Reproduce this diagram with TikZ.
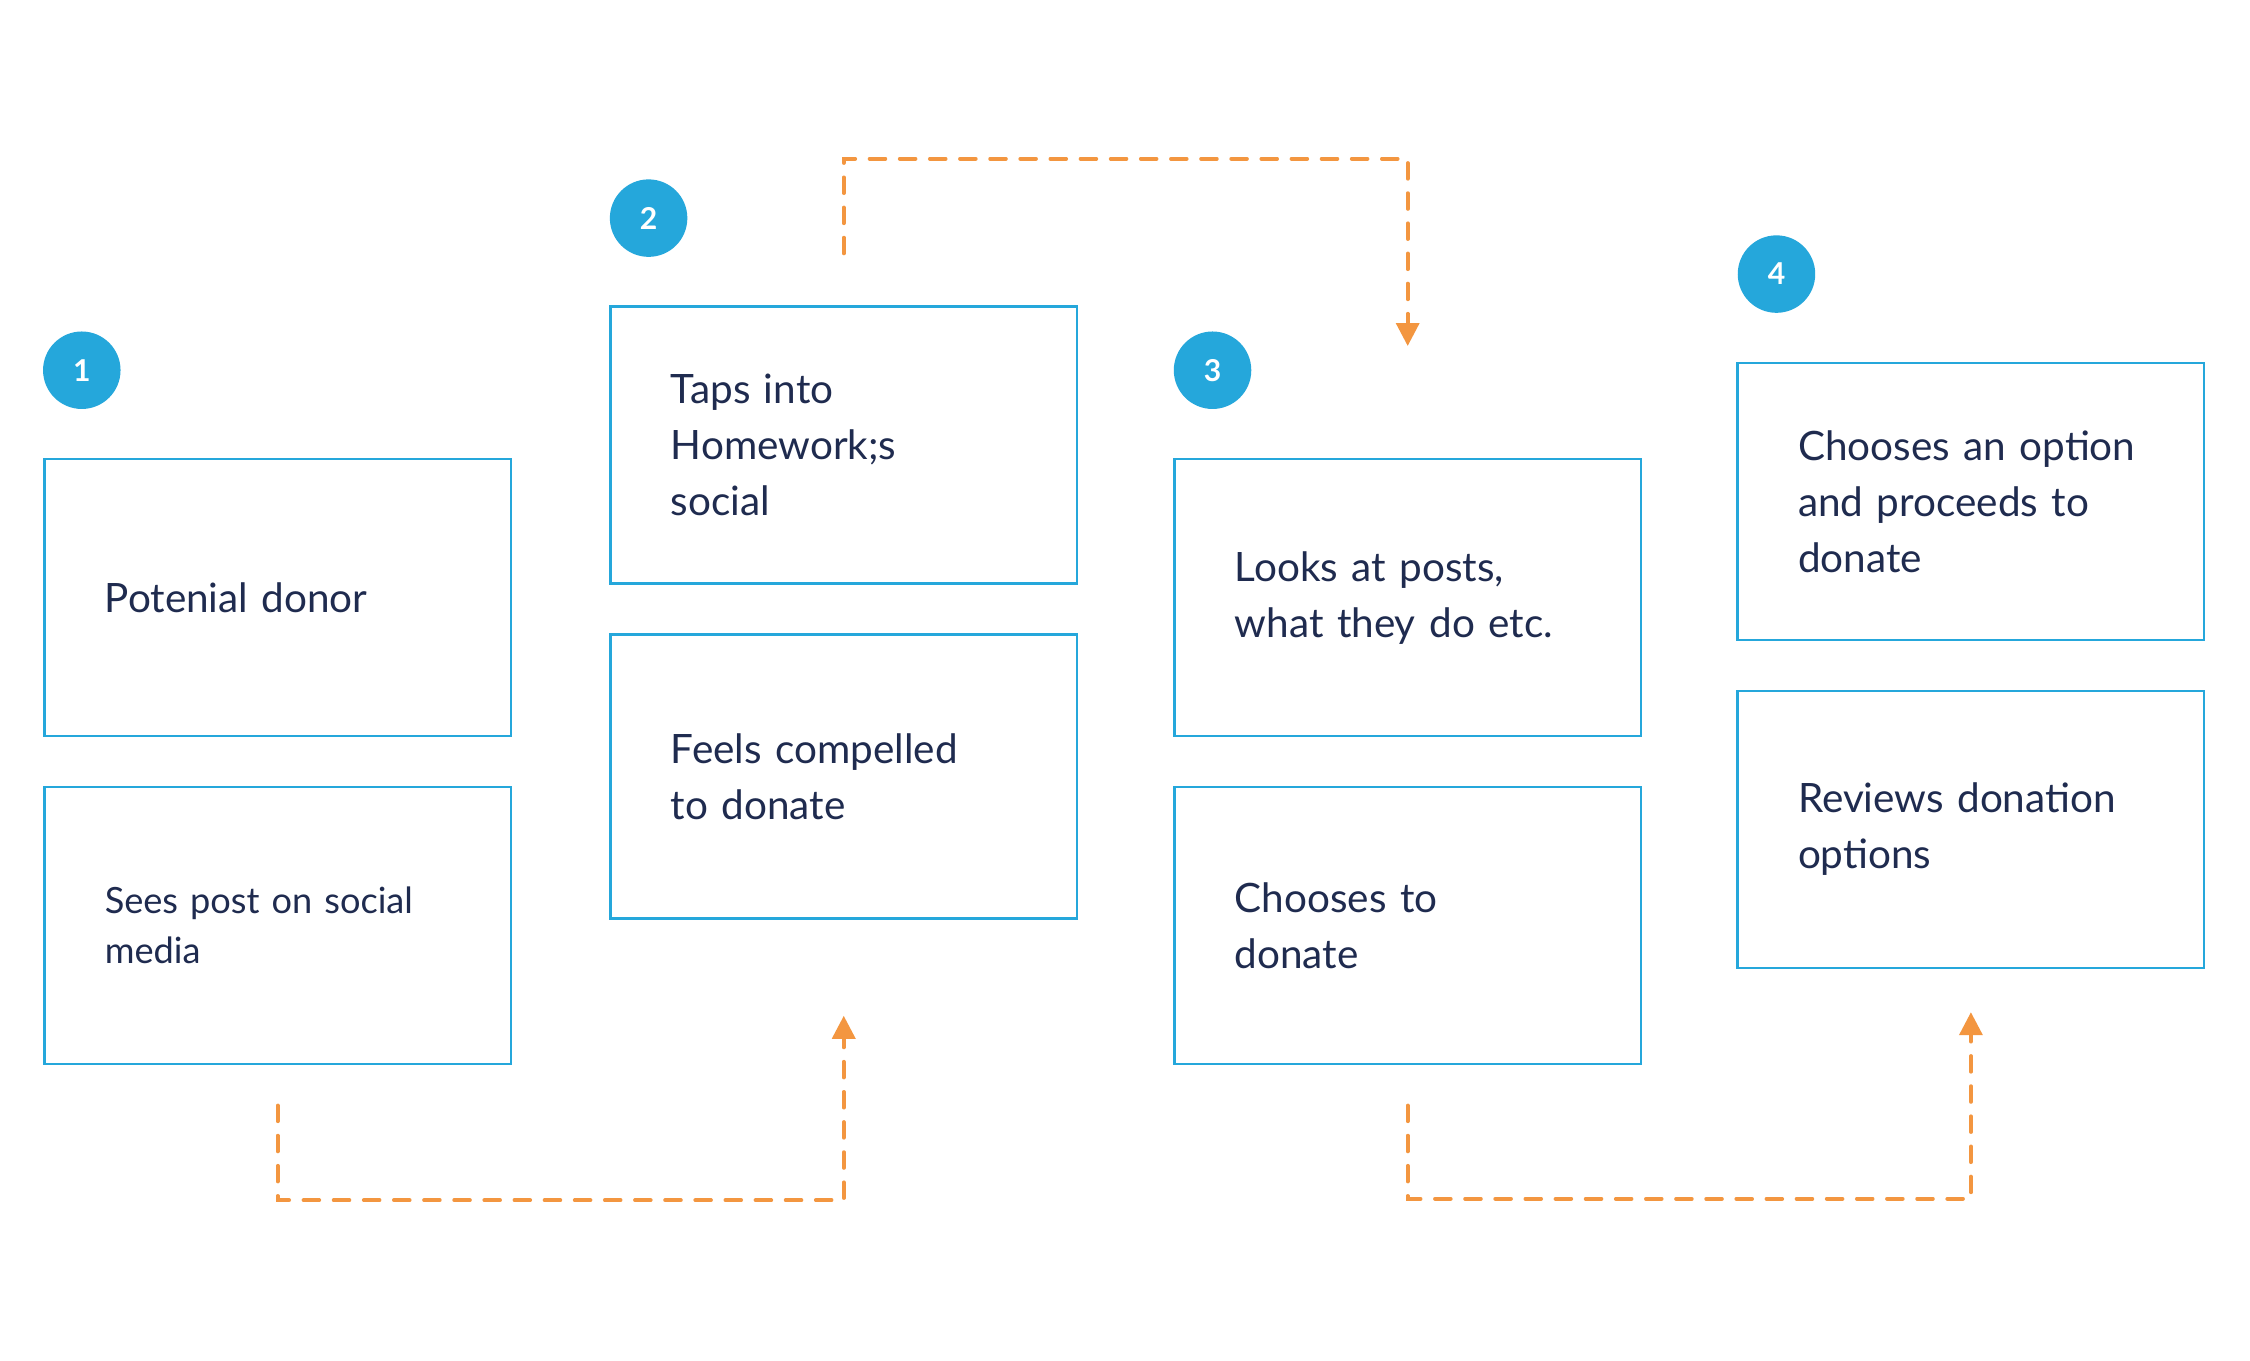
\documentclass[tikz,border=0pt]{standalone}
\usepackage{fontspec}
\setmainfont{Lato}
\usetikzlibrary{positioning,arrows.meta}
\definecolor{stepblue}{HTML}{25A7DB}
\definecolor{inkblue}{HTML}{1F2B4F}
\definecolor{floworange}{HTML}{F39640}
\tikzset{
  card/.style={draw=stepblue, line width=0.9pt, fill=white, text=inkblue,
    text width=120.5pt, inner xsep=21pt, inner ysep=0pt, minimum height=96.5pt,
    align=left, font=\fontsize{14.1}{19.5}\selectfont},
  smallcard/.style={card, font=\fontsize{12.6}{17.5}\selectfont},
  badge/.style={circle, fill=stepblue, text=white, minimum size=27pt,
    inner sep=0pt, font=\fontsize{10.5}{12}\selectfont\bfseries},
  flow/.style={draw=floworange, line width=1.3pt, line cap=round,
    dash pattern=on 5.5pt off 5pt,
    -{Triangle[width=8pt,length=8pt]}},
}
\begin{document}
\begin{tikzpicture}[x=0.5pt, y=-0.5pt]
\path[fill=white, use as bounding box] (0,0) rectangle (1568,948);

% step 1
\node[badge] (num1) at (57,258) {1};
\node[card] (donor) at (193.5,416.5) {Potenial donor};
\node[smallcard] (sees) at (193.5,645) {Sees post on social\\media};

% step 2
\node[badge] (num2) at (452,152) {2};
\node[card] (taps) at (588,310) {Taps into\\Homework;s\\social};
\node[card, minimum height=99pt] (feels) at (588,541) {Feels compelled\\to donate};

% step 3
\node[badge] (num3) at (845,258) {3};
\node[card] (looks) at (981,416.5) {Looks at posts,\\what they do etc.};
\node[card] (decides) at (981,645) {Chooses to\\donate};

% step 4
\node[badge] (num4) at (1238,191) {4};
\node[card] (proceeds) at (1373.5,349.5) {Chooses an option\\and proceeds to\\donate};
\node[card] (reviews) at (1373.5,578) {Reviews donation\\options};

% flow connectors
\coordinate (f1a) at ([yshift=-14pt]sees.south);
\coordinate (f1b) at ([yshift=-33.5pt]feels.south);
\draw[flow] (f1a) -- ++(0,-33pt) -| (f1b);

\coordinate (f2a) at ([yshift=18pt]taps.north);
\coordinate (f2b) at ([yshift=39pt]looks.north);
\draw[flow] (f2a) -- ++(0,33pt) -| (f2b);

\coordinate (f3a) at ([yshift=-14pt]decides.south);
\coordinate (f3b) at ([yshift=-15pt]reviews.south);
\draw[flow] (f3a) -- ++(0,-32.5pt) -| (f3b);
\end{tikzpicture}
\end{document}
